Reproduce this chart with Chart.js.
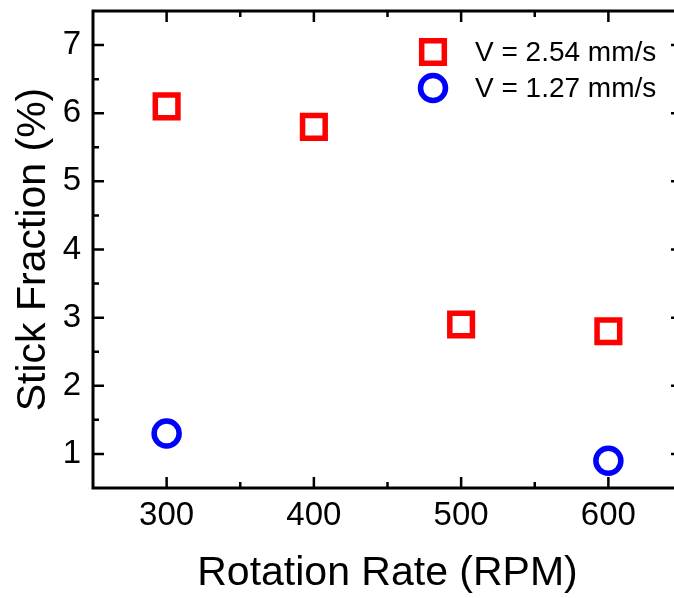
<!DOCTYPE html>
<html lang="en">
<head>
  <meta charset="UTF-8">
  <title>Stick Fraction vs Rotation Rate</title>
  <script src="https://cdn.jsdelivr.net/npm/chart.js"></script>
  <style>
    html, body {
      margin: 0;
      padding: 0;
      background: #ffffff;
      overflow: hidden;
    }
    canvas { display: block; }
  </style>
</head>
<body>
  <canvas id="stickChart" width="690" height="598"></canvas>

  <script>
    const rpmFast = [300, 400, 500, 600];
    const stickFast = [6.1, 5.8, 2.9, 2.8];
    const rpmSlow = [300, 600];
    const stickSlow = [1.3, 0.9];

    const xTicks = [300, 400, 500, 600];
    const xMinor = [350, 450, 550];
    const yTicks = [1, 2, 3, 4, 5, 6, 7];
    const yMinor = [1.5, 2.5, 3.5, 4.5, 5.5, 6.5];

    const FONT = "'Liberation Sans', Arial, sans-serif";

    // frame + inward ticks on all four sides, plus the inset legend
    const framePlugin = {
      id: 'frame',
      beforeDatasetsDraw(chart) {
        const { ctx, chartArea: a, scales } = chart;
        const xs = scales.x, ys = scales.y;
        ctx.save();
        ctx.strokeStyle = '#000';
        ctx.lineWidth = 3;
        ctx.strokeRect(a.left, a.top, a.right - a.left, a.bottom - a.top);
        ctx.lineWidth = 2.5;
        ctx.beginPath();
        const xt = (v, len) => {
          const p = xs.getPixelForValue(v);
          ctx.moveTo(p, a.bottom); ctx.lineTo(p, a.bottom - len);
          ctx.moveTo(p, a.top); ctx.lineTo(p, a.top + len);
        };
        const yt = (v, len) => {
          const p = ys.getPixelForValue(v);
          ctx.moveTo(a.left, p); ctx.lineTo(a.left + len, p);
          ctx.moveTo(a.right, p); ctx.lineTo(a.right - len, p);
        };
        xTicks.forEach(v => xt(v, 11));
        xMinor.forEach(v => xt(v, 6));
        yTicks.forEach(v => yt(v, 11));
        yMinor.forEach(v => yt(v, 6));
        ctx.stroke();
        ctx.restore();
      },
      afterDraw(chart) {
        const { ctx } = chart;
        ctx.save();
        ctx.font = '28px ' + FONT;
        ctx.fillStyle = '#000';
        ctx.textBaseline = 'middle';
        chart.data.datasets.forEach((ds, i) => {
          const cy = 52 + i * 36;
          ctx.strokeStyle = ds.borderColor;
          ctx.lineWidth = ds.borderWidth;
          ctx.beginPath();
          if (ds.pointStyle === 'rect') {
            const h = ds.pointRadius * Math.SQRT1_2;
            ctx.rect(433 - h, cy - h, 2 * h, 2 * h);
          } else {
            ctx.arc(433, cy, ds.pointRadius, 0, Math.PI * 2);
          }
          ctx.stroke();
          ctx.fillText(ds.label, 475, cy + 1);
        });
        ctx.restore();
      }
    };

    new Chart(document.getElementById('stickChart'), {
      type: 'scatter',
      data: {
        datasets: [{
          label: 'V = 2.54 mm/s',
          data: rpmFast.map((x, i) => ({ x: x, y: stickFast[i] })),
          pointStyle: 'rect',
          pointRadius: 16,
          borderColor: '#ff0000',
          backgroundColor: 'rgba(0,0,0,0)',
          borderWidth: 5.5
        }, {
          label: 'V = 1.27 mm/s',
          data: rpmSlow.map((x, i) => ({ x: x, y: stickSlow[i] })),
          pointStyle: 'circle',
          pointRadius: 12.5,
          borderColor: '#0000ff',
          backgroundColor: 'rgba(0,0,0,0)',
          borderWidth: 5.5
        }]
      },
      options: {
        responsive: false,
        animation: false,
        events: [],
        layout: { autoPadding: false, padding: { top: 11, right: 8, left: 0, bottom: 0 } },
        plugins: {
          legend: { display: false },
          tooltip: { enabled: false }
        },
        scales: {
          x: {
            type: 'linear',
            min: 250,
            max: 650,
            afterBuildTicks: s => { s.ticks = xTicks.map(v => ({ value: v })); },
            afterFit: s => { s.height = 110; s.paddingLeft = 0; s.paddingRight = 0; },
            grid: { display: false, drawTicks: false },
            border: { display: false },
            ticks: { color: '#000', padding: 8, font: { family: FONT, size: 33 } },
            title: {
              display: true,
              text: 'Rotation Rate (RPM)',
              color: '#000',
              font: { family: FONT, size: 41 },
              padding: { top: 0, bottom: 0 }
            }
          },
          y: {
            type: 'linear',
            min: 0.5,
            max: 7.5,
            afterBuildTicks: s => { s.ticks = yTicks.map(v => ({ value: v })); },
            afterFit: s => { s.width = 93; s.paddingTop = 0; s.paddingBottom = 0; },
            grid: { display: false, drawTicks: false },
            border: { display: false },
            ticks: { color: '#000', padding: 12, font: { family: FONT, size: 33 } },
            title: {
              display: true,
              text: 'Stick Fraction (%)',
              color: '#000',
              font: { family: FONT, size: 41 },
              padding: { top: 9, bottom: 0 }
            }
          }
        }
      },
      plugins: [framePlugin]
    });
  </script>
</body>
</html>
